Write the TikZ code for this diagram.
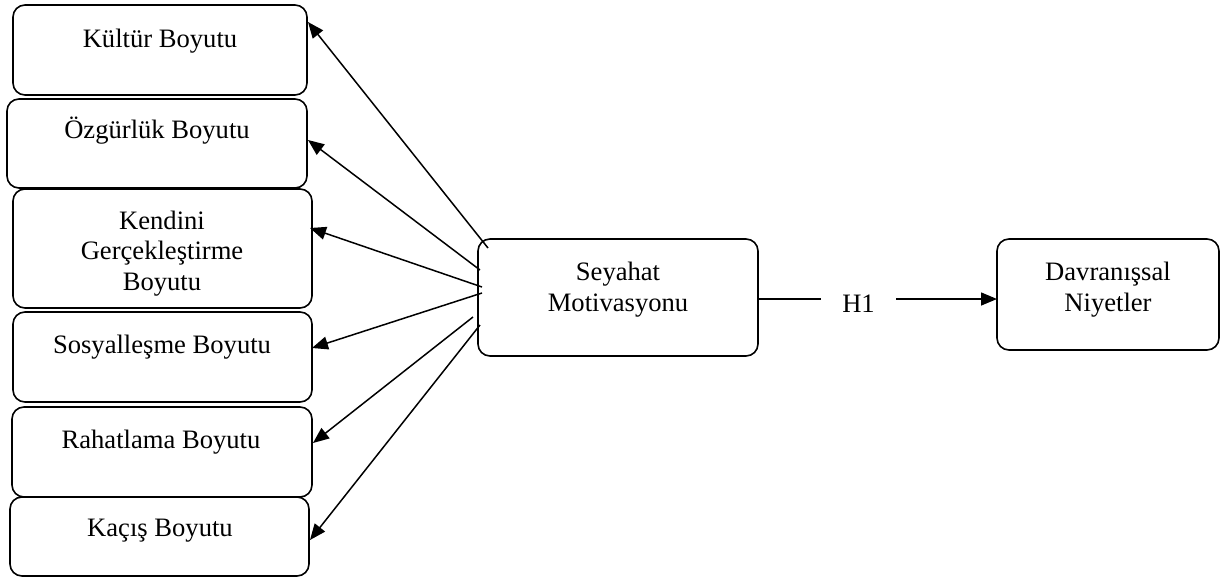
\documentclass[tikz,border=0pt]{standalone}
\usepackage{fontspec}
\setmainfont{Liberation Serif}
\usetikzlibrary{arrows.meta,calc}
\begin{document}
\begin{tikzpicture}[x=0.5pt,y=-0.5pt,
  box/.style={draw,line width=0.8pt,rounded corners=6pt,inner sep=0pt,outer sep=0pt,anchor=north west},
  lbl/.style={font=\fontsize{13.3pt}{15.2pt}\selectfont,inner sep=0pt,anchor=base,align=center},
  arr/.style={line width=0.75pt,-{Triangle[length=8pt,width=6.5pt]}},
  ln/.style={line width=0.75pt}]
\useasboundingbox (0,0) rectangle (1223,579);
% boxes
\node[box,minimum width=147pt,minimum height=45pt] (kultur) at (13,5) {};
\node[box,minimum width=150pt,minimum height=44.5pt] (ozgur) at (7,99) {};
\node[box,minimum width=149.5pt,minimum height=59.5pt] (kendini) at (13,189) {};
\node[box,minimum width=149.5pt,minimum height=45pt] (sosyal) at (13,312) {};
\node[box,minimum width=150pt,minimum height=45pt] (rahat) at (12,407) {};
\node[box,minimum width=149.5pt,minimum height=39.5pt] (kacis) at (10,497) {};
\node[box,minimum width=140pt,minimum height=58.5pt] (sey) at (478,239) {};
\node[box,minimum width=111pt,minimum height=55.5pt] (davr) at (997,239) {};
% labels
\node[lbl] (tkultur) at (160,47) {Kültür Boyutu};
\node[lbl] (tozgur) at (157,138) {Özgürlük Boyutu};
\node[lbl] (tkendini) at (162,290) {Kendini\\Gerçekleştirme\\Boyutu};
\node[lbl] (tsosyal) at (162,353) {Sosyalleşme Boyutu};
\node[lbl] (trahat) at (161,448) {Rahatlama Boyutu};
\node[lbl] (tkacis) at (160,536) {Kaçış Boyutu};
\node[lbl] (tsey) at (618,311) {Seyahat\\Motivasyonu};
\node[lbl] (tdavr) at (1108,311) {Davranışsal\\Niyetler};
\node[lbl,inner xsep=10.5pt] (h1) at (858.5,312) {H1};
% start coordinates on Seyahat
\coordinate (s1) at ($(sey.north west)+(10,9)$);
\coordinate (s2) at ($(sey.north west)+(2,31)$);
\coordinate (s3) at ($(sey.north west)+(4,48)$);
\coordinate (s4) at ($(sey.north west)+(4,54)$);
\coordinate (s5) at ($(sey.north west)+(-5,78)$);
\coordinate (s6) at ($(sey.north west)+(2,86)$);
% end coordinates on boxes
\coordinate (e1) at ($(kultur.north east)+(1,17)$);
\coordinate (e2) at ($(ozgur.north east)+(1,41)$);
\coordinate (e3) at ($(kendini.north east)+(-2,39)$);
\coordinate (e4) at ($(sosyal.north east)+(0,36)$);
\coordinate (e5) at ($(rahat.north east)+(1,36)$);
\coordinate (e6) at ($(kacis.north east)+(1,43)$);
\draw[arr] (s1) -- (e1);
\draw[arr] (s2) -- (e2);
\draw[arr] (s3) -- (e3);
\draw[arr] (s4) -- (e4);
\draw[arr] (s5) -- (e5);
\draw[arr] (s6) -- (e6);
% H1 connector
\draw[ln] ($(sey.east)+(0,1.5)$) -- ($(sey.east -| h1.west)+(0,1.5)$);
\draw[arr] ($(sey.east -| h1.east)+(0,1.5)$) -- ($(sey.east -| davr.west)+(0,1.5)$);
\end{tikzpicture}
\end{document}
